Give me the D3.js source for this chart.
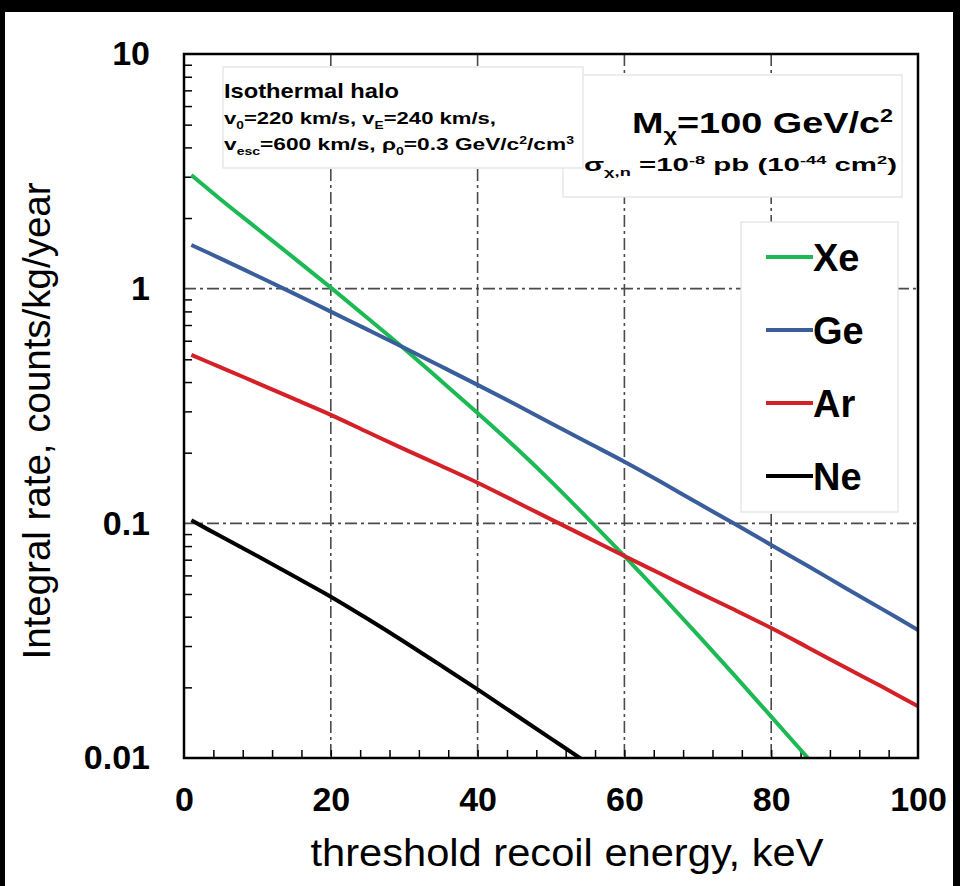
<!DOCTYPE html>
<html>
<head>
<meta charset="utf-8">
<script src="https://cdn.jsdelivr.net/npm/d3@7"></script>
<style>
  html, body { margin: 0; padding: 0; background: #000; }
  svg { display: block; }
  text { font-family: "Liberation Sans", Arial, sans-serif; fill: #000; }
</style>
</head>
<body>
<svg id="chart" width="960" height="886"></svg>
<script>
const keV = [1, 5, 10, 15, 20, 25, 30, 35, 40, 45, 50, 55, 60, 65, 70, 75, 80, 85, 90, 95, 100];
const keVNe = [1, 5, 10, 15, 20, 25, 30, 35, 40, 45, 50, 55, 60];

// Integral rate, counts/kg/year
const rateXe = [3.05, 2.40, 1.80, 1.35, 1.01, 0.75, 0.555, 0.405, 0.295, 0.213, 0.151, 0.105, 0.0725,
  0.0495, 0.0335, 0.0225, 0.0150, 0.0100, 0.0066];
const rateGe = [1.535, 1.343, 1.132, 0.953, 0.798, 0.669, 0.560, 0.467, 0.389, 0.323, 0.267, 0.221,
  0.183, 0.150, 0.122, 0.0995, 0.0809, 0.0658, 0.0533, 0.0433, 0.0351];
const rateAr = [0.522, 0.462, 0.396, 0.339, 0.290, 0.245, 0.207, 0.176, 0.149, 0.1245, 0.104, 0.0869,
  0.0726, 0.0608, 0.0509, 0.0428, 0.0358, 0.0296, 0.0244, 0.0202, 0.01663];
const rateNe = [0.103, 0.088, 0.0725, 0.0595, 0.0487, 0.0392, 0.0313, 0.0248, 0.0196, 0.0154, 0.0121, 0.0095, 0.0074];

const seriesNames = ['Xe', 'Ge', 'Ar', 'Ne'];
const seriesColors = ['#1db954', '#3a5d9c', '#d42027', '#000000'];

const xTicks = [0, 20, 40, 60, 80, 100];
const yTicks = [0.01, 0.1, 1, 10];
const yTickLabels = ['0.01', '0.1', '1', '10'];

const svg = d3.select('#chart');

// white page inside the black border
svg.append('rect')
  .attr('x', 5).attr('y', 12)
  .attr('width', 948).attr('height', 874)
  .attr('fill', '#fff');

const x = d3.scaleLinear().domain([0, 100]).range([184, 918]);
const y = d3.scaleLog().domain([0.01, 10]).range([758, 54]);

svg.append('defs').append('clipPath').attr('id', 'plot-clip')
  .append('rect')
  .attr('x', x(0)).attr('y', y(10))
  .attr('width', x(100) - x(0)).attr('height', y(0.01) - y(10));

// --- Grid (dash-dot) ---
const grid = svg.append('g').attr('stroke', '#4a4a4a').attr('stroke-width', 1.6)
  .attr('stroke-dasharray', '12,4,3,4');
grid.selectAll('.vgrid')
  .data([20, 40, 60, 80])
  .join('line')
  .attr('x1', d => x(d)).attr('x2', d => x(d))
  .attr('y1', y(10)).attr('y2', y(0.01));
grid.selectAll('.hgrid')
  .data([0.1, 1])
  .join('line')
  .attr('x1', x(0)).attr('x2', x(100))
  .attr('y1', d => y(d)).attr('y2', d => y(d));

// --- Minor ticks (inward) ---
const minorY = [];
[0.01, 0.1, 1].forEach(dec => { for (let k = 2; k <= 9; k++) minorY.push(dec * k); });
svg.append('g')
  .attr('transform', `translate(${x(0)},0)`)
  .call(d3.axisLeft(y).tickValues(minorY).tickSize(-8).tickFormat(''))
  .call(g => g.select('.domain').remove())
  .call(g => g.selectAll('line').attr('stroke', '#000').attr('stroke-width', 1.5));

svg.append('g')
  .attr('transform', `translate(0,${y(0.01)})`)
  .call(d3.axisBottom(x).tickValues(d3.range(4, 100, 4)).tickSize(-8).tickFormat(''))
  .call(g => g.select('.domain').remove())
  .call(g => g.selectAll('line').attr('stroke', '#000').attr('stroke-width', 1.5));

// --- Tick labels ---
svg.append('g')
  .attr('transform', `translate(${x(0)},0)`)
  .call(d3.axisLeft(y).tickValues(yTicks).tickSize(0).tickPadding(34)
    .tickFormat((d, i) => yTickLabels[i]))
  .call(g => g.select('.domain').remove())
  .call(g => g.selectAll('text')
    .attr('font-family', '"Liberation Sans", Arial, sans-serif')
    .attr('font-size', 34).attr('font-weight', 'bold').attr('fill', '#000'));

svg.append('g')
  .attr('transform', `translate(0,${y(0.01)})`)
  .call(d3.axisBottom(x).tickValues(xTicks).tickSize(0).tickPadding(29).tickFormat(d3.format('d')))
  .call(g => g.select('.domain').remove())
  .call(g => g.selectAll('text')
    .attr('font-family', '"Liberation Sans", Arial, sans-serif')
    .attr('font-size', 34).attr('font-weight', 'bold').attr('fill', '#000'));

// --- Curves ---
const line = d3.line()
  .x(d => x(d[0]))
  .y(d => y(d[1]))
  .curve(d3.curveCatmullRom.alpha(0.5));

const seriesData = [
  d3.zip(keV, rateXe),
  d3.zip(keV, rateGe),
  d3.zip(keV, rateAr),
  d3.zip(keVNe, rateNe)
];

svg.append('g').attr('clip-path', 'url(#plot-clip)')
  .selectAll('path')
  .data(seriesData)
  .join('path')
  .attr('d', line)
  .attr('fill', 'none')
  .attr('stroke', (d, i) => seriesColors[i])
  .attr('stroke-width', 4)
  .attr('stroke-linejoin', 'round');

// --- Frame ---
svg.append('rect')
  .attr('x', x(0)).attr('y', y(10))
  .attr('width', x(100) - x(0)).attr('height', y(0.01) - y(10))
  .attr('fill', 'none').attr('stroke', '#000').attr('stroke-width', 2.5);

// --- Annotation boxes ---
// right box (behind)
svg.append('rect')
  .attr('x', 563).attr('y', 75).attr('width', 339).attr('height', 122)
  .attr('fill', '#fff').attr('stroke', '#e2e2e2').attr('stroke-width', 1.2);

// left box
svg.append('rect')
  .attr('x', 223).attr('y', 67).attr('width', 360).attr('height', 101)
  .attr('fill', '#fff').attr('stroke', '#e2e2e2').attr('stroke-width', 1.2);

function richText(parent, xPos, yPos, size, parts, opts = {}) {
  const t = parent.append('text')
    .attr('x', xPos).attr('y', yPos)
    .attr('font-size', size).attr('font-weight', 'bold');
  if (opts.anchor) t.attr('text-anchor', opts.anchor);
  let shift = 0;
  parts.forEach(([str, kind]) => {
    const ts = t.append('tspan').text(str);
    let target = 0;
    if (kind === 'sub') { target = size * 0.28; ts.attr('font-size', size * 0.62); }
    if (kind === 'sup') { target = -size * 0.38; ts.attr('font-size', size * 0.62); }
    ts.attr('dy', target - shift);
    shift = target;
  });
  if (opts.length) t.attr('textLength', opts.length).attr('lengthAdjust', 'spacingAndGlyphs');
  return t;
}

const ann = svg.append('g');
richText(ann, 224, 98, 21, [['Isothermal halo']], { length: 175 });
richText(ann, 224, 124, 17, [
  ['v'], ['0', 'sub'], ['=220 km/s, v'], ['E', 'sub'], ['=240 km/s,']
], { length: 272 });
richText(ann, 224, 150, 17, [
  ['v'], ['esc', 'sub'], ['=600 km/s, ρ'], ['0', 'sub'], ['=0.3 GeV/c'], ['2', 'sup'], ['/cm'], ['3', 'sup']
], { length: 350 });

richText(ann, 893, 133, 30, [
  ['M'], ['χ', 'sub'], ['=100 GeV/c'], ['2', 'sup']
], { anchor: 'end', length: 261 });
richText(ann, 897, 171, 19, [
  ['σ'], ['χ,n', 'sub'], [' =10'], ['-8', 'sup'], [' pb (10'], ['-44', 'sup'], [' cm'], ['2', 'sup'], [')']
], { anchor: 'end', length: 313 });

// --- Legend ---
svg.append('rect')
  .attr('x', 741).attr('y', 222).attr('width', 157).attr('height', 290)
  .attr('fill', '#fff').attr('stroke', '#e2e2e2').attr('stroke-width', 1.2);

const legend = svg.append('g')
  .selectAll('g')
  .data(seriesNames)
  .join('g')
  .attr('transform', (d, i) => `translate(766,${257 + i * 73})`);

legend.append('line')
  .attr('x1', 0).attr('x2', 47)
  .attr('stroke', (d, i) => seriesColors[i])
  .attr('stroke-width', 4);

legend.append('text')
  .attr('x', 47).attr('y', 14)
  .attr('font-size', 38).attr('font-weight', 'bold')
  .text(d => d);

// --- Axis titles ---
svg.append('text')
  .attr('x', 567).attr('y', 866)
  .attr('text-anchor', 'middle')
  .attr('font-size', 38)
  .attr('textLength', 513).attr('lengthAdjust', 'spacingAndGlyphs')
  .text('threshold recoil energy, keV');

svg.append('text')
  .attr('transform', 'translate(50,421) rotate(-90)')
  .attr('text-anchor', 'middle')
  .attr('font-size', 38)
  .attr('textLength', 477).attr('lengthAdjust', 'spacingAndGlyphs')
  .text('Integral rate, counts/kg/year');
</script>
</body>
</html>
